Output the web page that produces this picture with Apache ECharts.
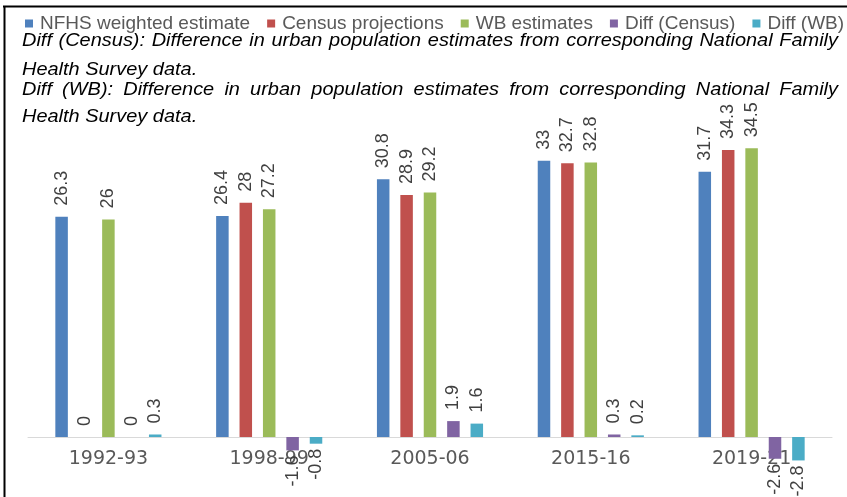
<!DOCTYPE html>
<html><head><meta charset="utf-8">
<script src="https://cdn.jsdelivr.net/npm/echarts@6/dist/echarts.min.js"></script>
<style>html,body{margin:0;padding:0;background:#fff}#c{width:847px;height:497px}</style>
</head><body><div id="c"></div>
<script>
const categories = ['1992-93', '1998-99', '2005-06', '2015-16', '2019-21'];
const seriesNames = ['NFHS weighted estimate', 'Census projections', 'WB estimates', 'Diff (Census)', 'Diff (WB)'];
const nfhs = [26.3, 26.4, 30.8, 33, 31.7];
const census = [0, 28, 28.9, 32.7, 34.3];
const wb = [26, 27.2, 29.2, 32.8, 34.5];
const diffCensus = [0, -1.6, 1.9, 0.3, -2.6];
const diffWB = [0.3, -0.8, 1.6, 0.2, -2.8];
const notes = [
  'Diff (Census): Difference in urban population estimates from corresponding National Family',
  'Health Survey data.',
  'Diff (WB): Difference in urban population estimates from corresponding National Family',
  'Health Survey data.'
];
const justified = [true, false, true, false];
const colors = ['#4F81BD', '#C0504D', '#9BBB59', '#8064A2', '#4BACC6'];

const allSeries = [nfhs, census, wb, diffCensus, diffWB];
const FF = '"Liberation Sans", Arial, Helvetica, sans-serif';
const NOTE_FONT = 'italic 19px ' + FF;

// notes layout (justified text)
const cv = document.createElement('canvas').getContext('2d');
cv.font = NOTE_FONT;
const noteLeft = 22, noteRight = 838, SX = 1.05;
const noteY = [40.5, 70, 89.5, 117];
const graphics = [];
notes.forEach((line, li) => {
  const words = line.split(' ');
  if (!justified[li]) {
    graphics.push({type: 'text', x: noteLeft, y: noteY[li], scaleX: SX,
      style: {text: line, font: NOTE_FONT, fill: '#000', verticalAlign: 'middle'}});
    return;
  }
  const ws = words.map(w => cv.measureText(w).width);
  const W = ws.reduce((a, b) => a + b, 0);
  const sp = cv.measureText(' ').width;
  const avail = noteRight - noteLeft;
  const k = Math.min(SX, (avail - (words.length - 1) * sp * 0.9) / W);
  const gap = (avail - k * W) / (words.length - 1);
  let x = noteLeft;
  words.forEach((w, i) => {
    graphics.push({type: 'text', x: x, y: noteY[li], scaleX: k,
      style: {text: w, font: NOTE_FONT, fill: '#000', verticalAlign: 'middle'}});
    x += ws[i] * k + gap;
  });
});
graphics.push({type: 'line', shape: {x1: 3, y1: 6.5, x2: 847, y2: 6.5}, style: {stroke: '#000', lineWidth: 2}});
graphics.push({type: 'line', shape: {x1: 4.5, y1: 6, x2: 4.5, y2: 497}, style: {stroke: '#000', lineWidth: 2}});

const baseLabel = {show: true, position: 'top', distance: 11, rotate: 90, align: 'left', verticalAlign: 'middle',
  color: '#404040', fontSize: 18, fontFamily: FF};
function mkData(arr) {
  return arr.map(v => v < 0 ? {value: v, label: {position: 'bottom', align: 'right', distance: 5}} : v);
}

const chart = echarts.init(document.getElementById('c'), null, {renderer: 'canvas'});
chart.setOption({
  animation: false,
  color: colors,
  legend: {top: 14, left: 25, padding: 0, width: 822, itemWidth: 8, itemHeight: 8, itemGap: 17, icon: 'rect',
    data: seriesNames,
    textStyle: {color: '#595959', fontSize: 19, fontFamily: FF, padding: [0, 0, 0, 2]}},
  grid: {left: 28, right: 15, top: 102.2, bottom: 60, containLabel: false},
  xAxis: {type: 'category', data: categories,
    axisLine: {onZero: false, lineStyle: {color: '#d9d9d9', width: 1}},
    axisTick: {show: false},
    axisLabel: {show: true, interval: 0, color: '#595959', fontSize: 19, fontFamily: '"DejaVu Sans", sans-serif', margin: 13}},
  yAxis: {type: 'value', min: 0, max: 40, show: false, splitLine: {show: false}},
  series: allSeries.map((arr, i) => ({
    name: seriesNames[i], type: 'bar', data: mkData(arr), clip: false,
    itemStyle: {color: colors[i]}, label: baseLabel,
    barGap: '87%', barCategoryGap: '34%'
  })),
  graphic: graphics
});
</script></body></html>
